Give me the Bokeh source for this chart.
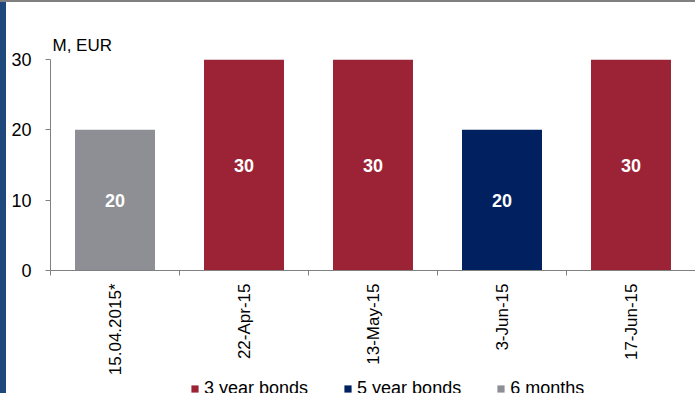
import math
from bokeh.plotting import figure
from bokeh.models import (ColumnDataSource, Range1d, FixedTicker, Legend, LegendItem,
                          Spacer, LabelSet)
from bokeh.layouts import row, column
from bokeh.embed import file_html
from bokeh.resources import INLINE
from bokeh.core.properties import value

# ---- data ----
categories = ["15.04.2015*", "22-Apr-15", "13-May-15", "3-Jun-15", "17-Jun-15"]
amounts = [20, 30, 30, 20, 30]
bond_types = ["6 months", "3 year bonds", "3 year bonds", "5 year bonds", "3 year bonds"]
legend_order = ["3 year bonds", "5 year bonds", "6 months"]
type_colors = {"3 year bonds": "#9b2335", "5 year bonds": "#002060", "6 months": "#8e8f94"}
y_ticks = [0, 10, 20, 30]
y_unit = "M, EUR"

FONT = "Liberation Sans"
AXIS_GRAY = "#808080"

xs = [i + 0.5 for i in range(len(categories))]

p = figure(width=689, height=370, output_backend="svg", toolbar_location=None,
           x_range=Range1d(0, len(categories)), y_range=Range1d(0, 30),
           min_border_left=44, min_border_top=57, min_border_right=0,
           min_border_bottom=102)
p.frame_width = 645
p.frame_height = 211
p.outline_line_color = None
p.xgrid.visible = False
p.ygrid.visible = False
p.background_fill_color = "white"
p.border_fill_color = "white"

p.title.text = y_unit
p.title.align = "left"
p.title.text_font = FONT
p.title.text_font_size = "17px"
p.title.text_font_style = "normal"
p.title.text_color = "#000000"
p.title.offset = 2
p.title.standoff = 9

sources = {}
for t in legend_order:
    idx = [i for i, bt in enumerate(bond_types) if bt == t]
    sources[t] = ColumnDataSource(dict(x=[xs[i] for i in idx], top=[amounts[i] for i in idx]))
    p.vbar(x="x", top="top", width=0.62, source=sources[t],
           fill_color=type_colors[t], line_color=None)

lab_src = ColumnDataSource(dict(x=xs, y=[a / 2 for a in amounts], t=[str(a) for a in amounts]))
p.add_layout(LabelSet(x="x", y="y", text="t", source=lab_src, text_color="white",
                      text_font=value(FONT), text_font_size="18px", text_font_style="bold",
                      text_align="center", text_baseline="middle"))

# axes
xa = p.xaxis[0]
xa.ticker = FixedTicker(ticks=xs, minor_ticks=list(range(len(categories))))
xa.major_label_overrides = {x: c for x, c in zip(xs, categories)}
xa.major_label_orientation = math.pi / 2
xa.major_tick_out = 0
xa.major_tick_in = 0
xa.minor_tick_out = 5
xa.minor_tick_in = 0
xa.minor_tick_line_color = AXIS_GRAY
xa.axis_line_color = AXIS_GRAY
xa.major_label_text_font = FONT
xa.major_label_text_font_size = "17px"
xa.major_label_text_color = "#000000"
xa.major_label_standoff = 8

ya = p.yaxis[0]
ya.ticker = FixedTicker(ticks=y_ticks)
ya.major_tick_out = 5
ya.major_tick_in = 0
ya.minor_tick_out = 0
ya.minor_tick_in = 0
ya.major_tick_line_color = AXIS_GRAY
ya.axis_line_color = AXIS_GRAY
ya.major_label_text_font = FONT
ya.major_label_text_font_size = "18px"
ya.major_label_text_color = "#000000"
ya.major_label_standoff = 14

# legend strip (separate small figure; hidden copies of the bars supply the swatches)
pl = figure(width=689, height=21, output_backend="svg", toolbar_location=None,
            x_range=Range1d(0, len(categories)), y_range=Range1d(0, 30),
            x_axis_location=None, y_axis_location=None, min_border=0)
pl.outline_line_color = None
pl.xgrid.visible = False
pl.ygrid.visible = False
leg_items = []
for t in legend_order:
    r = pl.vbar(x="x", top="top", width=0.62, source=sources[t],
                fill_color=type_colors[t], line_color=None, visible=False)
    leg_items.append(LegendItem(label=t, renderers=[r]))
legend = Legend(items=leg_items, orientation="horizontal", location=(140, 0),
                glyph_width=9, glyph_height=9, label_standoff=5, spacing=35,
                label_text_font=FONT, label_text_font_size="18px", label_text_color="#000000",
                label_height=14, padding=0, margin=0, border_line_color=None,
                background_fill_alpha=0, inactive_fill_alpha=0)
pl.add_layout(legend, "center")

left_band = Spacer(width=6, height=391, styles={"background-color": "#1f497d"})
top_line = Spacer(width=695, height=2, styles={"background-color": "#808080"})
layout = column(top_line, row(left_band, column(p, pl, spacing=0), spacing=0), spacing=0)

open("out.html", "w").write(file_html(layout, INLINE))
